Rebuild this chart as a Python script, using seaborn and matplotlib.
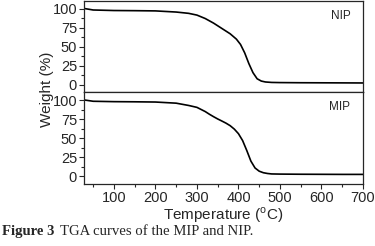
# -*- coding: utf-8 -*-
import matplotlib
matplotlib.use("Agg")
import matplotlib.pyplot as plt
import seaborn as sns
import pandas as pd
from matplotlib.ticker import MultipleLocator

# TGA data
nip_temp = [25, 50, 100, 150, 200, 250, 280, 300, 320, 340, 360, 380, 395, 405,
            415, 425, 435, 445, 455, 465, 480, 500, 550, 600, 650, 700]
nip_weight = [100.5, 98.2, 97.5, 97.3, 97.0, 95.5, 93.8, 91.5, 87.0, 81.0, 74.0,
              67.0, 60.0, 53.0, 42.0, 28.0, 16.0, 8.0, 5.0, 3.8, 3.2, 3.0, 2.8,
              2.7, 2.6, 2.5]
mip_temp = [25, 50, 100, 150, 200, 250, 280, 300, 320, 330, 340, 350, 360, 370,
            380, 390, 400, 410, 420, 430, 440, 450, 460, 470, 480, 500, 550, 600,
            650, 700]
mip_weight = [100.5, 98.5, 98.0, 97.8, 97.5, 96.0, 93.0, 90.5, 85.0, 81.5, 78.3,
              75.3, 72.6, 69.8, 66.5, 62.0, 56.0, 47.0, 34.0, 20.0, 11.0, 6.8,
              4.8, 3.8, 3.2, 3.0, 2.8, 2.7, 2.6, 2.6]

sns.set_style('ticks')
plt.rcParams['font.family'] = ['Liberation Sans', 'DejaVu Sans']
plt.rcParams['mathtext.fontset'] = 'custom'
plt.rcParams['mathtext.rm'] = 'Liberation Sans'

fig, (ax1, ax2) = plt.subplots(2, 1, sharex=True, figsize=(3.75, 2.46), dpi=100)
fig.subplots_adjust(left=0.224, right=0.968, top=0.996, bottom=0.252, hspace=0)

nip = pd.DataFrame({'T': nip_temp, 'W': nip_weight})
mip = pd.DataFrame({'T': mip_temp, 'W': mip_weight})
sns.lineplot(data=nip, x='T', y='W', ax=ax1, color='black', lw=1.2)
sns.lineplot(data=mip, x='T', y='W', ax=ax2, color='black', lw=1.2)

for ax, name in ((ax1, 'NIP'), (ax2, 'MIP')):
    ax.set_xlim(28, 700)
    ax.set_ylim(-10, 110)
    ax.set_yticks([0, 25, 50, 75, 100])
    ax.yaxis.set_minor_locator(MultipleLocator(12.5))
    ax.xaxis.set_minor_locator(MultipleLocator(50))
    ax.tick_params(which='major', length=3.5, width=0.8, labelsize=10.5, pad=1.5)
    ax.tick_params(which='minor', length=2, width=0.8)
    for s in ax.spines.values():
        s.set_linewidth(0.9)
    ax.set_xlabel('')
    ax.set_ylabel('')
    ax.text(0.955, 0.84, name, transform=ax.transAxes, ha='right', va='center',
            fontsize=8.5)

ax1.tick_params(axis='x', which='both', bottom=False, labelbottom=False)
ax2.set_xticks([100, 200, 300, 400, 500, 600, 700])
ax2.set_xlabel(r'Temperature ($^\mathrm{o}$C)', fontsize=11, labelpad=0)
fig.text(0.125, 0.638, 'Weight (%)', rotation=90, ha='center', va='center',
         fontsize=11)

fig.text(0.005, 0.058, 'Figure 3', family='Liberation Serif', fontweight='bold',
         fontsize=10.6, va='center')
fig.text(0.16, 0.058, 'TGA curves of the MIP and NIP.', family='Liberation Serif',
         fontsize=10.6, va='center')

plt.savefig('out.png', dpi=100)
